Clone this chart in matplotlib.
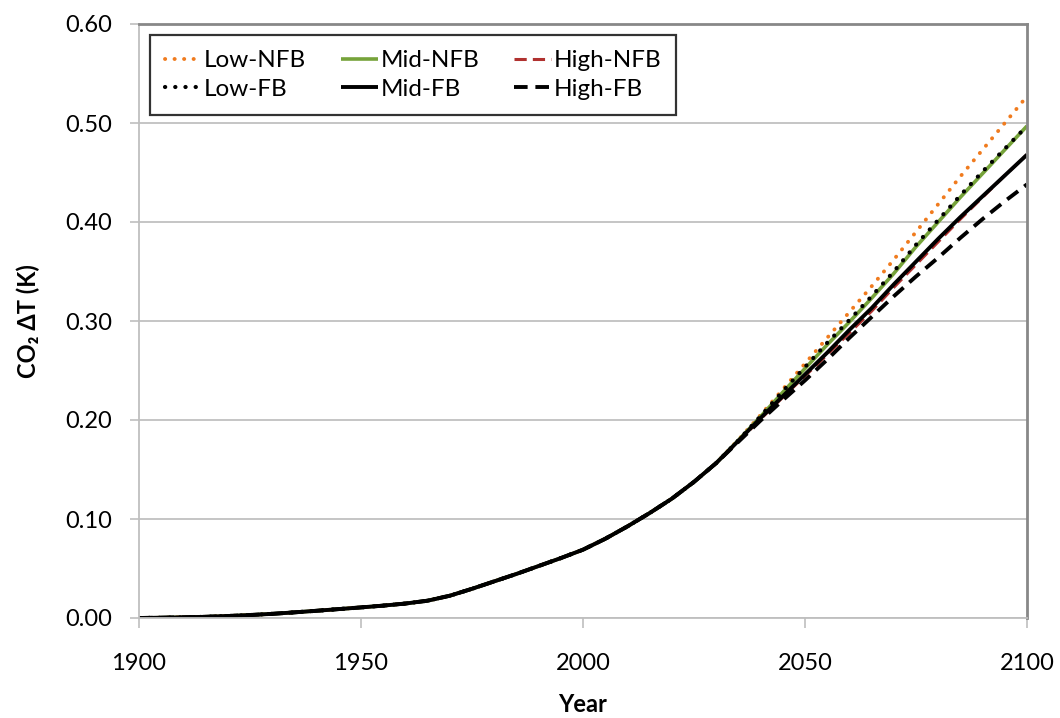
import matplotlib
matplotlib.use("Agg")
import matplotlib.pyplot as plt
import numpy as np

plt.rcParams['font.family'] = ['Lato', 'DejaVu Sans']

years = [1900, 1905, 1910, 1915, 1920, 1925, 1930, 1935, 1940, 1945, 1950,
         1955, 1960, 1965, 1970, 1975, 1980, 1985, 1990, 1995, 2000,
         2005, 2010, 2015, 2020, 2025, 2030, 2035, 2040, 2045, 2050,
         2055, 2060, 2065, 2070, 2075, 2080, 2085, 2090, 2095, 2100]

common = [0.000, 0.0003, 0.0007, 0.0012, 0.0020, 0.0030, 0.0042, 0.0057, 0.0073, 0.0090, 0.0107,
          0.0125, 0.0146, 0.0175, 0.0225, 0.0295, 0.0370, 0.0445, 0.0525, 0.0605, 0.0690,
          0.0800, 0.0925, 0.1060, 0.1205, 0.1375, 0.1565]

low_nfb_tail = [0.1800, 0.2050, 0.2310, 0.2570, 0.283, 0.309, 0.335, 0.362, 0.390, 0.418, 0.446, 0.473, 0.500, 0.527]
mid_nfb_tail = [0.1795, 0.2035, 0.2280, 0.2520, 0.276, 0.299, 0.323, 0.348, 0.375, 0.400, 0.425, 0.449, 0.473, 0.497]
high_nfb_tail = [0.1785, 0.2010, 0.2230, 0.2445, 0.266, 0.288, 0.310, 0.334, 0.357, 0.380, 0.403, 0.425, 0.447, 0.468]
low_fb_tail = [0.1795, 0.2040, 0.2290, 0.2535, 0.278, 0.301, 0.325, 0.350, 0.377, 0.402, 0.427, 0.451, 0.474, 0.497]
mid_fb_tail = [0.1790, 0.2020, 0.2240, 0.2460, 0.268, 0.291, 0.313, 0.337, 0.360, 0.383, 0.405, 0.426, 0.447, 0.468]
high_fb_tail = [0.1780, 0.1995, 0.2200, 0.2400, 0.261, 0.283, 0.304, 0.325, 0.345, 0.364, 0.384, 0.403, 0.421, 0.438]

series = {
    "Low-NFB": common + low_nfb_tail,
    "Mid-NFB": common + mid_nfb_tail,
    "High-NFB": common + high_nfb_tail,
    "Low-FB": common + low_fb_tail,
    "Mid-FB": common + mid_fb_tail,
    "High-FB": common + high_fb_tail,
}

styles = {
    "Low-NFB": dict(color="#F07B1E", linestyle=(0, (0.05, 2.4)), linewidth=2.8,
                    dash_capstyle='round'),
    "Mid-NFB": dict(color="#76A33A", linestyle="-", linewidth=2.6),
    "High-NFB": dict(color="#B0312F", linestyle=(0, (4, 2)), linewidth=2.2,
                     dash_capstyle='butt'),
    "Low-FB": dict(color="black", linestyle=(0, (0.05, 2.4)), linewidth=3.0,
                   dash_capstyle='round'),
    "Mid-FB": dict(color="black", linestyle="-", linewidth=2.8),
    "High-FB": dict(color="black", linestyle=(0, (3.5, 2)), linewidth=2.8,
                    dash_capstyle='butt'),
}

fig = plt.figure(figsize=(10.6, 7.18), dpi=100)
ax = fig.add_axes([139/1060, 1-618/718, (1027-139)/1060, (618-24)/718])

handles = {}
for name in ["Low-NFB", "Mid-NFB", "High-NFB", "High-FB", "Low-FB", "Mid-FB"]:
    h, = ax.plot(years, series[name], label=name, solid_capstyle='butt', **styles[name])
    handles[name] = h

ax.set_xlim(1900, 2100)
ax.set_ylim(0, 0.60)
ax.set_xticks([1900, 1950, 2000, 2050, 2100])
ax.set_yticks(np.arange(0, 0.61, 0.1))
ax.set_yticklabels([f"{v:.2f}" for v in np.arange(0, 0.61, 0.1)])
ax.yaxis.grid(True, color="#C0C0C0", linewidth=1.3)
ax.set_axisbelow(True)

for s in ["left", "bottom"]:
    ax.spines[s].set_color("#BFBFBF")
    ax.spines[s].set_linewidth(1.3)
for s in ["top", "right"]:
    ax.spines[s].set_color("#888888")
    ax.spines[s].set_linewidth(2.0)

ax.tick_params(axis='y', direction='out', length=6.5, width=1.2, color="#BFBFBF",
               pad=13, labelsize=17)
ax.tick_params(axis='x', direction='out', length=7, width=1.2, color="#BFBFBF",
               pad=18, labelsize=17)

fig.text(28/1060, 1-321/718, "CO\u2082 \u0394T (K)", rotation=90, ha='center', va='center',
         fontsize=17, fontweight='bold')
fig.text(583/1060, 1-705/718, "Year", ha='center', va='center', fontsize=17, fontweight='bold')

order = ["Low-NFB", "Low-FB", "Mid-NFB", "Mid-FB", "High-NFB", "High-FB"]
leg = ax.legend([handles[n] for n in order], order, ncol=3, loc='upper left',
                bbox_to_anchor=(11/888, 1-11/594), fontsize=17.5, frameon=True,
                fancybox=False, edgecolor='black', handlelength=1.5, handletextpad=0.1,
                columnspacing=1.45, borderpad=0.62, labelspacing=0.32, borderaxespad=0)
leg.get_frame().set_linewidth(1.6)

fig.savefig("out.png", dpi=100)
